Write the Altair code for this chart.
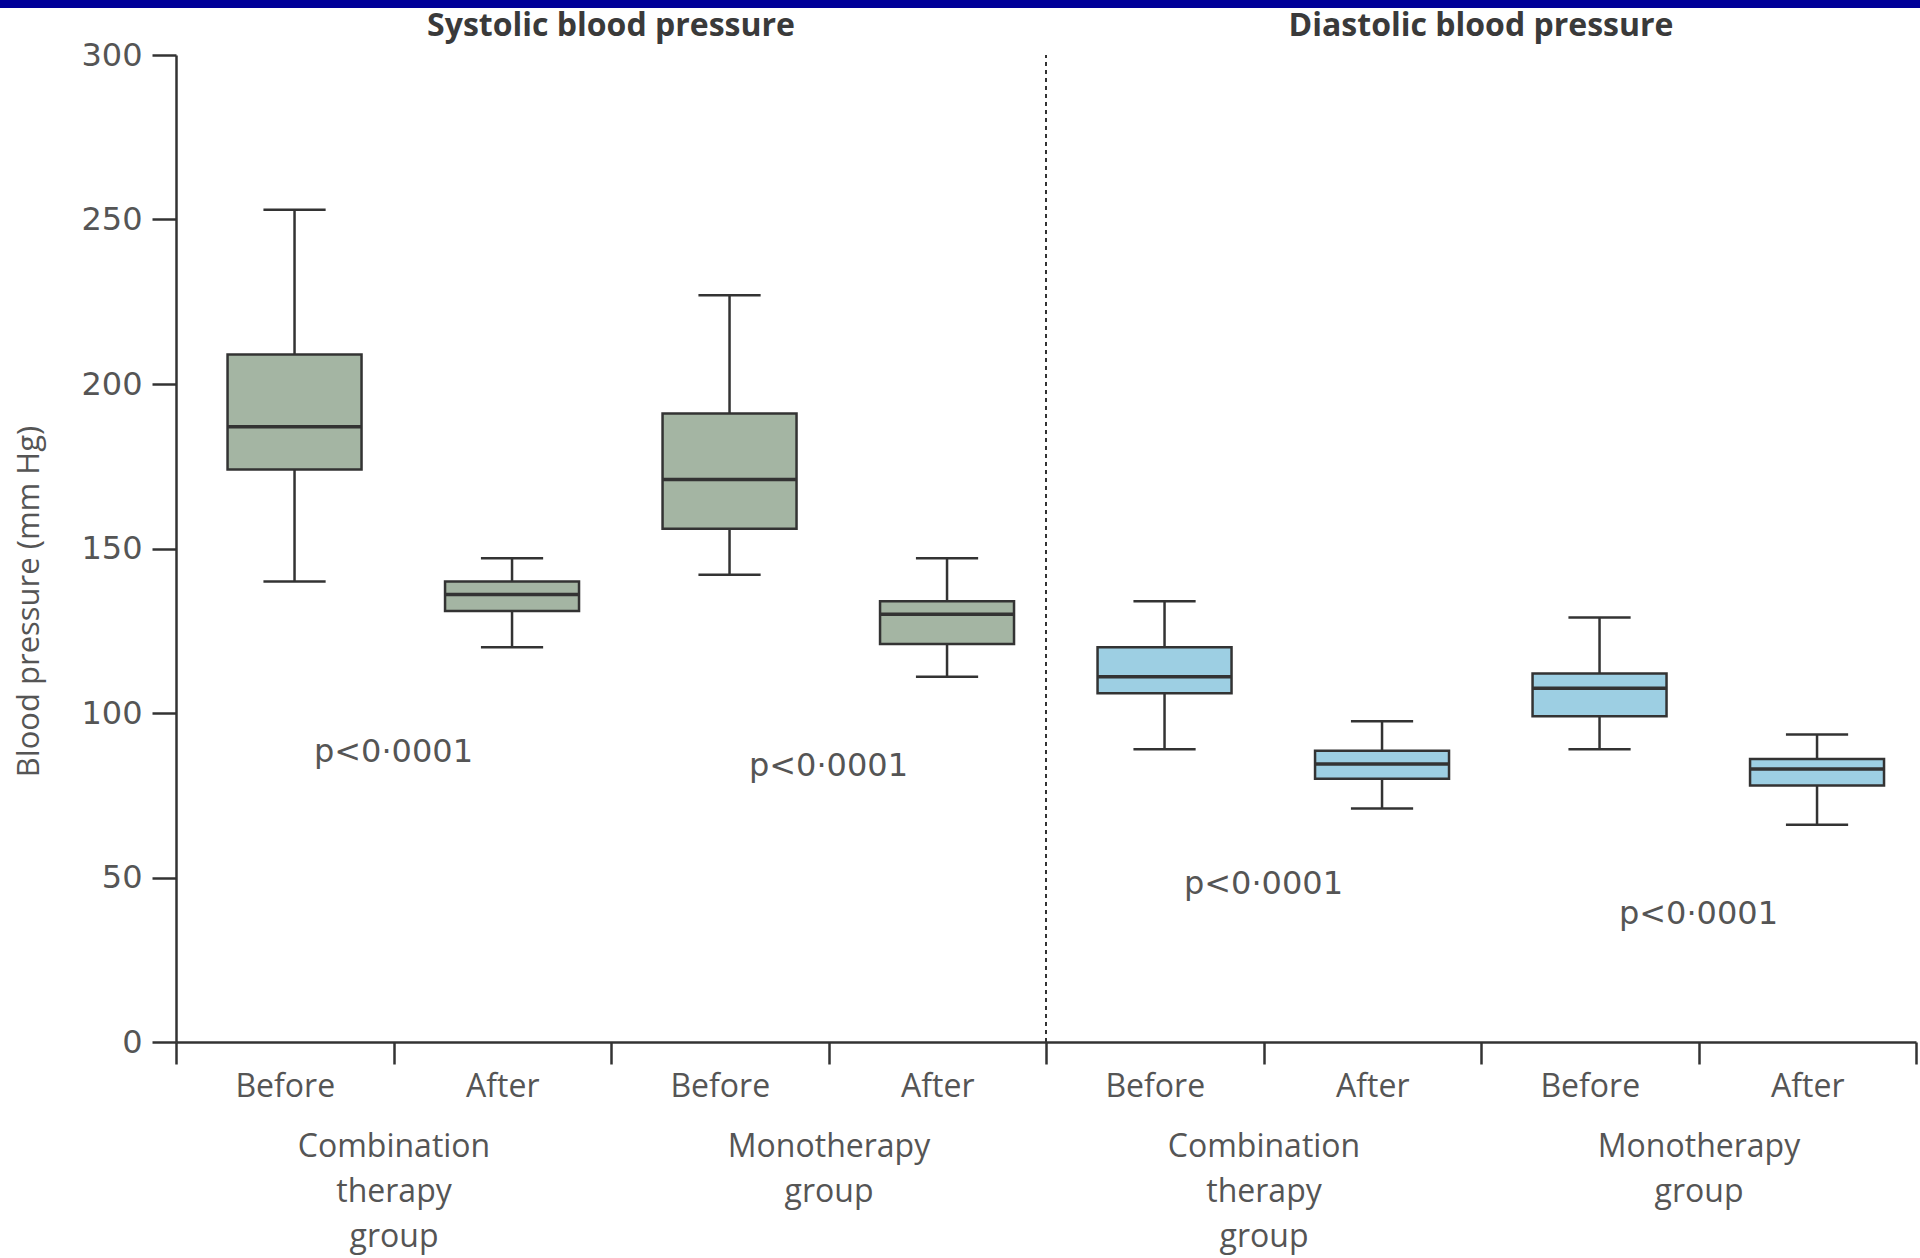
import json
import altair as alt
import pandas as pd

# ---- data -----------------------------------------------------------------
panels = ["Systolic blood pressure", "Diastolic blood pressure"]
groups = ["Combination therapy group", "Monotherapy group"]
times = ["Before", "After"]

# box-plot statistics (mm Hg), order: panel -> group -> time
whisker_low = [140, 120, 142, 111, 89, 71, 89, 66]
box_q1 = [174, 131, 156, 121, 106, 80, 99, 78]
box_median = [187, 136, 171, 130, 111, 84.5, 107.5, 83]
box_q3 = [209, 140, 191, 134, 120, 88.5, 112, 86]
whisker_high = [253, 147, 227, 147, 134, 97.5, 129, 93.5]

p_labels = ["p<0·0001", "p<0·0001", "p<0·0001", "p<0·0001"]
p_values_y = [88, 84, 48, 39]

y_ticks = [0, 50, 100, 150, 200, 250, 300]
fill_colors = ["#a4b5a3", "#9dcfe3"]

# ---- tables built from the lists -------------------------------------------
rows = []
i = 0
for pi, panel in enumerate(panels):
    for gi, group in enumerate(groups):
        for ti, time in enumerate(times):
            rows.append(dict(idx=i, panel=panel, group=group, time=time,
                             low=whisker_low[i], q1=box_q1[i], med=box_median[i],
                             q3=box_q3[i], high=whisker_high[i]))
            i += 1
box_df = pd.DataFrame(rows)
n_slots = len(rows)
per_panel = n_slots // len(panels)

p_df = pd.DataFrame(dict(k=list(range(len(p_labels))), label=p_labels, y=p_values_y))
title_df = pd.DataFrame(dict(k=list(range(len(panels))), label=panels))

SHIFT = 0.045
BOX_HALF = 0.308
CAP_HALF = 0.143
EDGE = "#333333"
TEXT = "#555555"

base = alt.Chart(box_df).transform_calculate(
    xc=f"datum.idx + 0.5 + {SHIFT}",
    xl=f"datum.idx + 0.5 + {SHIFT} - {BOX_HALF}",
    xr=f"datum.idx + 0.5 + {SHIFT} + {BOX_HALF}",
    cl=f"datum.idx + 0.5 + {SHIFT} - {CAP_HALF}",
    cr=f"datum.idx + 0.5 + {SHIFT} + {CAP_HALF}",
)

time_js = json.dumps(times)
group_js = json.dumps([g.split(" ") for g in groups])
label_expr = (
    f"datum.value % 1 !== 0 ? {time_js}[floor(datum.value) % 2] : "
    f"(datum.value % 2 === 1 ? {group_js}[floor(datum.value / 2) % 2] : '')"
)

x_scale = alt.Scale(domain=[0, n_slots], nice=False, zero=False)
y_scale = alt.Scale(domain=[0, 300], nice=False, zero=True)

x_axis = alt.Axis(
    values=[v / 2 for v in range(2 * n_slots + 1)],
    labelExpr=label_expr,
    title=None, grid=False,
    domainColor=EDGE, domainWidth=2.5,
    tickColor=EDGE, tickWidth=2.5, tickSize=22,
    tickOpacity={"condition": {"test": "datum.value % 1 !== 0", "value": 0}, "value": 1},
    labelPadding={"condition": {"test": "datum.value % 1 === 0", "value": 67}, "value": 7},
    labelFont="Open Sans", labelFontSize=32, labelColor=TEXT,
    labelLineHeight=45, labelBaseline="top", labelAlign="center",
    labelOverlap=False, labelBound=False, labelFlush=False, labelLimit=0,
)
y_axis = alt.Axis(
    values=y_ticks, grid=False,
    domainColor=EDGE, domainWidth=2.5,
    tickColor=EDGE, tickWidth=2.5, tickSize=24,
    labelFont="DejaVu Sans", labelFontSize=32, labelColor=TEXT, labelPadding=10,
    title="Blood pressure (mm Hg)", titleFont="Open Sans", titleFontSize=31,
    titleFontWeight="normal", titleColor=TEXT, titleAngle=270,
    titleX=-138, titleY=546, titleBaseline="alphabetic", titleAlign="center",
)


def X(field):
    return alt.X(field, scale=x_scale, axis=x_axis)


def Y(field):
    return alt.Y(field, scale=y_scale, axis=y_axis)


whiskers = base.mark_rule(color=EDGE, strokeWidth=2.5).encode(
    x=X("xc:Q"), y=Y("low:Q"), y2="high:Q")
cap_low = base.mark_rule(color=EDGE, strokeWidth=2.5).encode(
    x=X("cl:Q"), x2="cr:Q", y=Y("low:Q"))
cap_high = base.mark_rule(color=EDGE, strokeWidth=2.5).encode(
    x=X("cl:Q"), x2="cr:Q", y=Y("high:Q"))
boxes = base.mark_rect(stroke=EDGE, strokeWidth=2.5, opacity=1).encode(
    x=X("xl:Q"), x2="xr:Q", y=Y("q1:Q"), y2="q3:Q",
    fill=alt.Fill("panel:N", scale=alt.Scale(domain=panels, range=fill_colors), legend=None),
)
medians = base.mark_rule(color=EDGE, strokeWidth=3.5).encode(
    x=X("xl:Q"), x2="xr:Q", y=Y("med:Q"))

p_text = alt.Chart(p_df).transform_calculate(px="2 * datum.k + 1").mark_text(
    font="DejaVu Sans", fontSize=32, color=TEXT, align="center", baseline="middle"
).encode(x=X("px:Q"), y=Y("y:Q"), text="label:N")

divider = alt.Chart(title_df).transform_filter("datum.k === 1").transform_calculate(
    dx=f"datum.k * {per_panel}", y0="0", y1="300"
).mark_rule(color=EDGE, strokeWidth=2, strokeDash=[4, 4]).encode(
    x=X("dx:Q"), y=Y("y0:Q"), y2="y1:Q")

band = alt.Chart(title_df).transform_filter("datum.k === 0").mark_rect(
    color="#000099", clip=False
).encode(x=alt.value(-176), x2=alt.value(1744), y=alt.value(-55), y2=alt.value(-47))

titles = alt.Chart(title_df).transform_calculate(
    tx=f"datum.k * {per_panel} + {per_panel / 2}"
).mark_text(
    font="Open Sans", fontSize=32, fontWeight="bold", color="#3a3a3a",
    align="center", baseline="alphabetic"
).encode(x=X("tx:Q"), y=alt.value(-19), text="label:N")

chart = alt.layer(
    whiskers, cap_low, cap_high, boxes, medians, p_text, divider, band, titles
).properties(
    width=1740, height=987,
    padding={"left": 176, "top": 55, "right": 4, "bottom": 216},
    autosize=alt.AutoSizeParams(type="none"),
    background="white",
).configure_view(stroke=None)

chart.save("out.html", embed_options={"renderer": "svg", "actions": False})
